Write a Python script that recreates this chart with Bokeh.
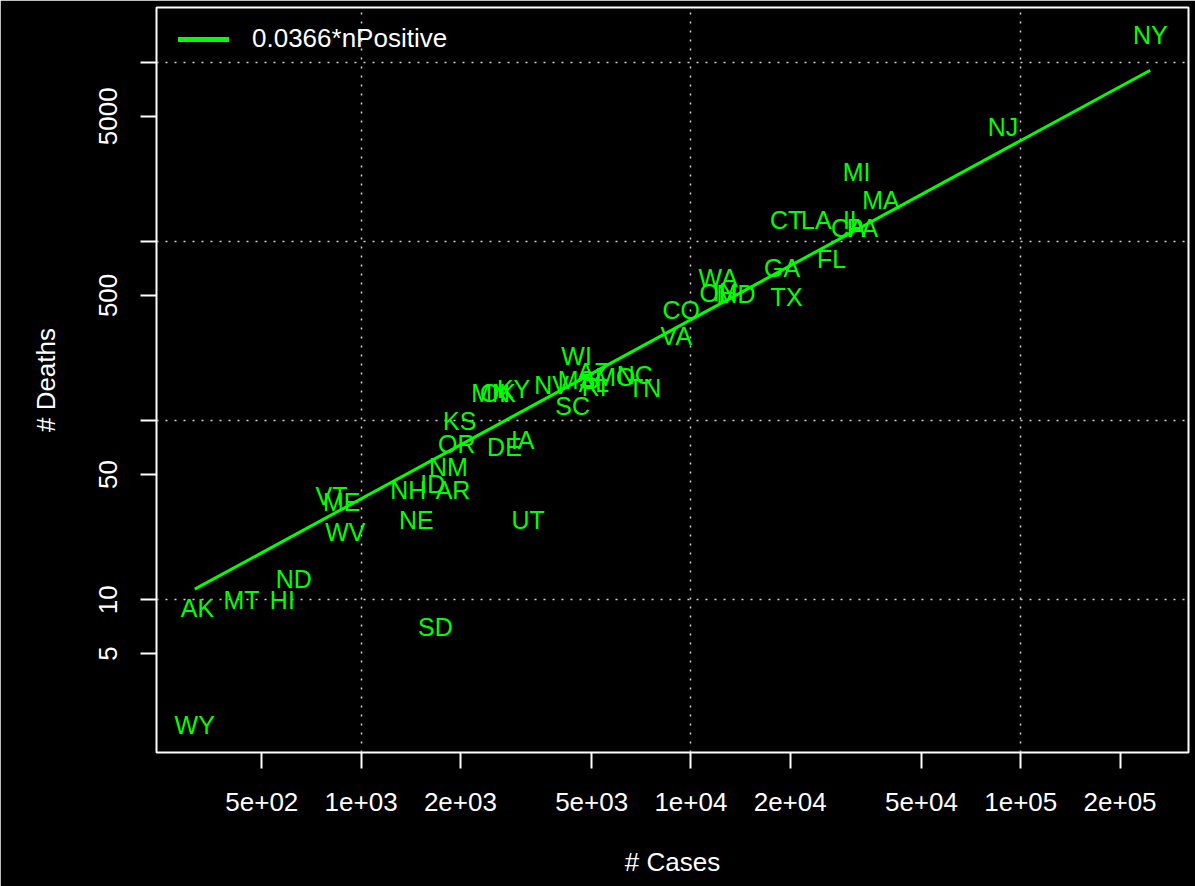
import math
from bokeh.plotting import figure
from bokeh.models import Range1d, FixedTicker, Legend, LegendItem, ColumnDataSource
from bokeh.core.properties import value
from bokeh.embed import file_html
from bokeh.resources import INLINE

# ---- data ----
states = ["NY", "NJ", "MI", "MA", "CT", "LA", "IL", "CA", "PA", "GA",
          "FL", "TX", "WA", "OH", "IN", "MD", "CO", "VA", "WI", "NV",
          "MS", "AZ", "AL", "RI", "MO", "NC", "TN", "SC", "MN", "OK",
          "KY", "KS", "OR", "DE", "IA", "NM", "ID", "AR", "NH", "NE",
          "UT", "VT", "ME", "WV", "ND", "AK", "MT", "HI", "SD", "WY"]
cases = [247000, 88400, 31800, 37700, 19500, 24000, 31100, 30000, 33100, 18900,
         26700, 19500, 12100, 12100, 12700, 13700, 9350, 9030, 4500, 3780,
         4500, 5060, 5080, 5090, 5900, 6760, 7240, 4380, 2470, 2600,
         2900, 1990, 1950, 2720, 3090, 1840, 1650, 1900, 1390, 1470,
         3210, 813, 873, 896, 625, 319, 434, 577, 1680, 313]
deaths = [14200, 4370, 2440, 1700, 1315, 1315, 1310, 1190, 1190, 710,
          800, 490, 629, 515, 525, 510, 414, 296, 228, 158,
          169, 187, 163, 155, 176, 180, 152, 120, 142, 142,
          150, 99, 74, 71, 78, 55, 44, 41, 41, 28,
          28, 38, 35, 24, 13, 9, 10, 10, 7, 2]
fit_coef = 0.0366
fit_label = "0.0366*nPositive"

x_ticks = [500, 1000, 2000, 5000, 10000, 20000, 50000, 100000, 200000]
x_tick_labels = ["5e+02", "1e+03", "2e+03", "5e+03", "1e+04", "2e+04", "5e+04", "1e+05", "2e+05"]
y_ticks = [5, 10, 50, 100, 500, 1000, 5000, 10000]
y_tick_labels = ["5", "10", "50", "", "500", "", "5000", ""]
x_grid = [1000, 10000, 100000]
y_grid = [10, 100, 1000, 10000]

# ---- ranges (log space, 4% padding like R) ----
def padded(vals):
    lo, hi = math.log10(min(vals)), math.log10(max(vals))
    pad = 0.04 * (hi - lo)
    return 10 ** (lo - pad), 10 ** (hi + pad)

xlo, xhi = padded(cases)
ylo, yhi = padded(deaths)

FONT = "Liberation Sans"
GREEN = "#00ff00"

W, H = 1195, 886
FRAME_L, FRAME_R, FRAME_T, FRAME_B = 156, 1188, 7, 752

p = figure(width=W, height=H, x_axis_type="log", y_axis_type="log",
           x_range=Range1d(xlo, xhi), y_range=Range1d(ylo, yhi),
           output_backend="svg", toolbar_location=None,
           min_border_left=FRAME_L, min_border_right=W - FRAME_R,
           min_border_top=FRAME_T, min_border_bottom=H - FRAME_B,
           background_fill_color="black", border_fill_color="black",
           outline_line_color="white", outline_line_width=2)

for ax in (p.xaxis[0], p.yaxis[0]):
    ax.axis_line_color = None
    ax.major_tick_line_color = "white"
    ax.major_tick_line_width = 2
    ax.major_tick_out = 16
    ax.major_tick_in = 0
    ax.minor_tick_line_color = None
    ax.major_label_text_color = "white"
    ax.major_label_text_font = FONT
    ax.major_label_text_font_size = "26px"
    ax.axis_label_text_color = "white"
    ax.axis_label_text_font = FONT
    ax.axis_label_text_font_size = "26px"
    ax.axis_label_text_font_style = "normal"

p.xaxis.ticker = FixedTicker(ticks=x_ticks)
p.xaxis.major_label_overrides = {t: l for t, l in zip(x_ticks, x_tick_labels)}
p.xaxis.major_label_standoff = 24
p.xaxis.axis_label = "# Cases"
p.xaxis.axis_label_standoff = 33

p.yaxis.ticker = FixedTicker(ticks=y_ticks)
p.yaxis.major_label_overrides = {t: l for t, l in zip(y_ticks, y_tick_labels)}
p.yaxis.major_label_orientation = "vertical"
p.yaxis.major_label_standoff = 23
p.yaxis.axis_label = "# Deaths"
p.yaxis.axis_label_standoff = 36

p.xgrid.ticker = FixedTicker(ticks=x_grid)
p.ygrid.ticker = FixedTicker(ticks=y_grid)
for g in (p.xgrid[0], p.ygrid[0]):
    g.grid_line_color = "#d3d3d3"
    g.grid_line_dash = "2 7"
    g.grid_line_width = 1.5

# fitted line across the data range
line_x = [min(cases), max(cases)]
line_y = [fit_coef * v for v in line_x]
p.line(x=line_x, y=line_y, line_color=GREEN, line_width=3)

src = ColumnDataSource(dict(x=cases, y=deaths, t=states))
p.text(x="x", y="y", text="t", source=src, text_align="center", text_baseline="middle",
       text_color=GREEN, text_font=value(FONT), text_font_size="25px")

# hidden renderer used only for the legend swatch (thicker, round caps)
leg_r = p.line(x=line_x, y=line_y, line_color=GREEN, line_width=5, line_cap="round", visible=False)
frame_h = FRAME_B - FRAME_T
legend = Legend(items=[LegendItem(label=fit_label, renderers=[leg_r])],
                location=(22, frame_h - 47), border_line_color=None, background_fill_alpha=0,
                inactive_fill_alpha=0,
                label_text_color="white", label_text_font=FONT, label_text_font_size="26px",
                glyph_width=51, glyph_height=16, label_height=16, label_standoff=23,
                padding=0, margin=0, spacing=0)
p.add_layout(legend)

open("out.html", "w").write(file_html(p, INLINE))
